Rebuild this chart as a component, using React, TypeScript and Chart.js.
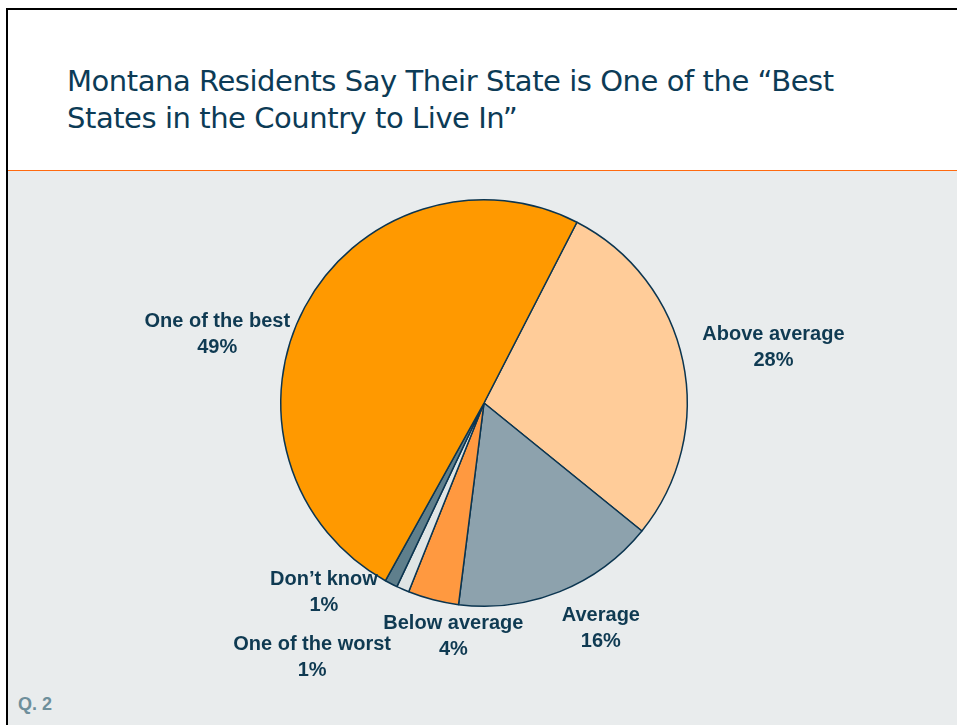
import React, { useEffect, useRef } from "react";
import { Chart, registerables } from "chart.js";

Chart.register(...registerables);

const TITLE_LINES = ["Montana Residents Say Their State is One of the \u201cBest", "States in the Country to Live In\u201d"];
const CATEGORIES = ["Above average", "Average", "Below average", "One of the worst", "Don\u2019t know", "One of the best"];
const VALUES = [28, 16, 4, 1, 1, 49];
const PERCENT_LABELS = ["28%", "16%", "4%", "1%", "1%", "49%"];
const COLORS = ["#ffcc99", "#8da2ad", "#ff9940", "#dfe5e5", "#5f7f8c", "#ff9900"];
const FOOTNOTE = "Q. 2";

// label placement relative to slice mid-angle: [angle delta (deg), radius factor]
const PLACEMENT: [number, number][] = [
  [1, 1.45],
  [-5.5, 1.25],
  [-7, 1.16],
  [10.5, 1.51],
  [13, 1.22],
  [-13.7, 1.355],
];

const labelPlugin = {
  id: "outerLabels",
  afterDatasetsDraw(chart: any) {
    const meta = chart.getDatasetMeta(0);
    const ctx = chart.ctx;
    ctx.save();
    ctx.fillStyle = "#0f3a52";
    ctx.font = "bold 20px 'Liberation Sans', Arial, sans-serif";
    ctx.textAlign = "center";
    ctx.textBaseline = "middle";
    meta.data.forEach((arc: any, i: number) => {
      const p = arc.getProps(["x", "y", "startAngle", "endAngle", "outerRadius"], true);
      const mid = (p.startAngle + p.endAngle) / 2 + (PLACEMENT[i][0] * Math.PI) / 180;
      const r = p.outerRadius * PLACEMENT[i][1];
      const x = p.x + Math.cos(mid) * r;
      const y = p.y + Math.sin(mid) * r;
      ctx.fillText(CATEGORIES[i], x, y - 13);
      ctx.fillText(PERCENT_LABELS[i], x, y + 13);
    });
    ctx.restore();
  },
};

export default function App() {
  const ref = useRef<HTMLCanvasElement>(null);
  useEffect(() => {
    document.body.style.margin = "0";
    const chart = new Chart(ref.current!, {
      type: "pie",
      data: {
        labels: CATEGORIES,
        datasets: [
          {
            data: VALUES,
            backgroundColor: COLORS,
            borderColor: "#0b3550",
            borderWidth: 1.5,
          },
        ],
      },
      options: {
        animation: false,
        responsive: false,
        rotation: 27.2,
        layout: { padding: { left: 280, right: 269, top: 199, bottom: 118 } },
        plugins: { legend: { display: false }, tooltip: { enabled: false } },
      },
      plugins: [labelPlugin],
    });
    return () => chart.destroy();
  }, []);

  return (
    <div style={{ position: "relative", width: 957, height: 725, background: "#ffffff", overflow: "hidden" }}>
      <div style={{ position: "absolute", left: 6, top: 8, right: 0, bottom: 0, borderTop: "2px solid #000", borderLeft: "2px solid #000" }} />
      <div style={{ position: "absolute", left: 8, top: 170, right: 0, height: 1, background: "#ff6a10" }} />
      <div style={{ position: "absolute", left: 8, top: 171, right: 0, bottom: 0, background: "#e9eced" }} />
      <div
        style={{
          position: "absolute",
          left: 67,
          top: 63,
          fontFamily: "'DejaVu Sans', Tahoma, sans-serif",
          fontSize: 29,
          lineHeight: "37px",
          color: "#0c3b56",
          whiteSpace: "nowrap",
          letterSpacing: -0.45,
        }}
      >
        {TITLE_LINES.map((l, i) => (
          <div key={i}>{l}</div>
        ))}
      </div>
      <div
        style={{
          position: "absolute",
          left: 18,
          top: 694,
          fontFamily: "'Liberation Sans', Arial, sans-serif",
          fontWeight: "bold",
          fontSize: 18,
          color: "#6e8f9b",
        }}
      >
        {FOOTNOTE}
      </div>
      <canvas ref={ref} width={957} height={725} style={{ position: "absolute", left: 0, top: 0 }} />
    </div>
  );
}
